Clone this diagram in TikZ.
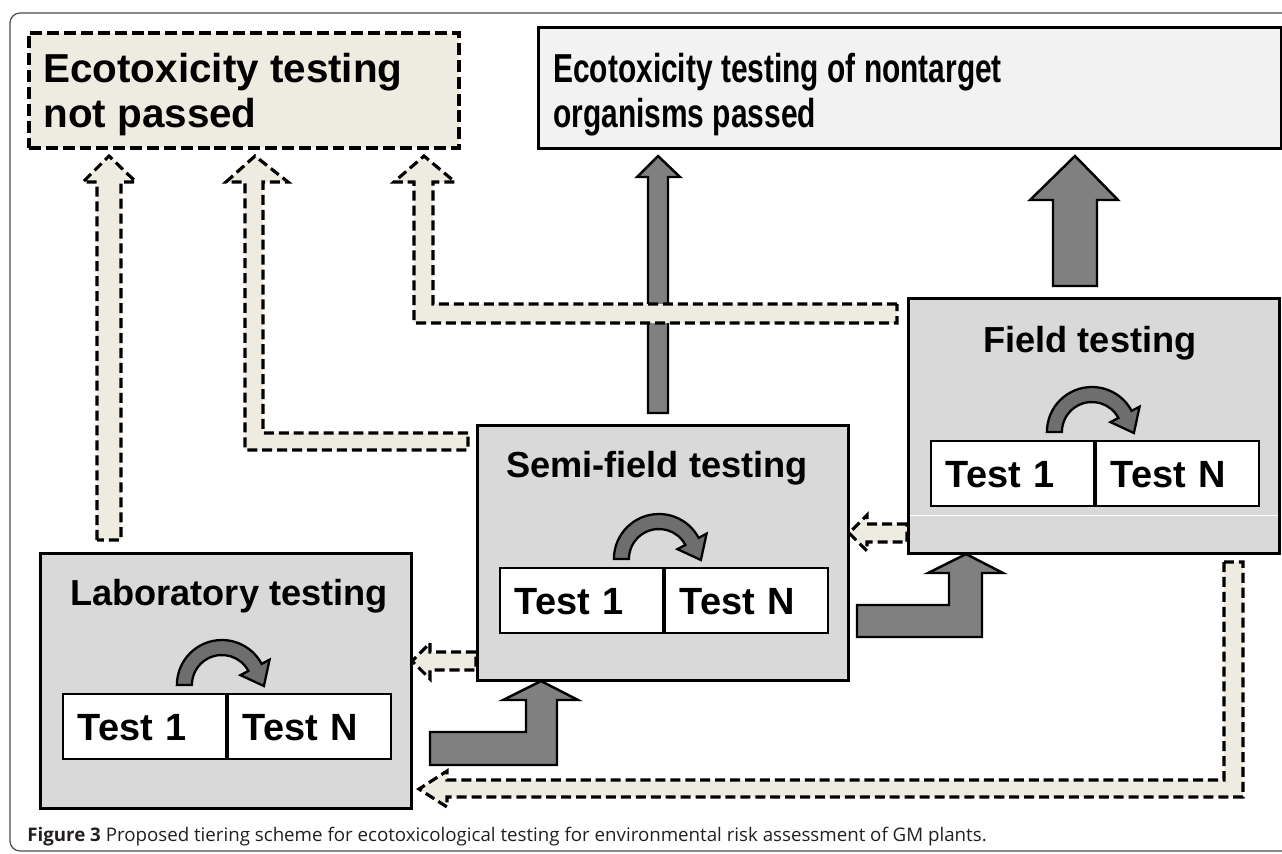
\documentclass[tikz,border=0pt]{standalone}
\usepackage{fontspec}
\setmainfont{Liberation Sans}
\newfontfamily\narrowfont[FakeStretch=0.74]{Liberation Sans}
\newfontfamily\capfont{Open Sans}
\usepackage{tikz}
\usetikzlibrary{positioning}
\usetikzlibrary{calc}
\usetikzlibrary{backgrounds}
\usetikzlibrary{math}

\definecolor{tiergray}{HTML}{D9D9D9}
\definecolor{passgray}{HTML}{F2F2F2}
\definecolor{failtan}{HTML}{EEECE1}
\definecolor{arrgray}{HTML}{808080}
\definecolor{loopgray}{HTML}{6E6E6E}
\definecolor{capblack}{HTML}{231F20}

\tikzstyle{tierbox} = [draw=black, line width=1.7pt, fill=tiergray, minimum width=7.42cm, minimum height=5.1cm, anchor=north west, inner sep=0pt]
\tikzstyle{tiertitle} = [anchor=base, inner sep=0pt, font=\bfseries\fontsize{20.6}{24}\selectfont]
\tikzstyle{testbox} = [draw=black, line width=1.1pt, fill=white, minimum height=1.3cm, text width=2.66cm, inner xsep=0.3cm, inner ysep=0pt, align=left, text height=15.5pt, text depth=0pt, font=\bfseries\fontsize{21.6}{24}\selectfont]
\tikzstyle{failbox} = [draw=black, line width=2.2pt, dash pattern=on 6.8pt off 2.8pt, fill=failtan, anchor=north west, inner sep=0pt]
\tikzstyle{passbox} = [draw=black, line width=1.7pt, fill=passgray, anchor=north west, inner sep=0pt]
\tikzstyle{boxtext} = [anchor=base west, align=left, inner sep=0pt, font=\bfseries\fontsize{23}{25.5}\selectfont]
\tikzstyle{grayarrow} = [draw=black, line width=1.4pt, fill=arrgray]
\tikzstyle{dasharrow} = [draw=black, line width=1.8pt, dash pattern=on 5.7pt off 2.8pt, fill=failtan]
\tikzstyle{looparrow} = [draw=black, line width=1.3pt, fill=loopgray]
\tikzstyle{frame} = [draw=black!70, line width=0.7pt, rounded corners=0.2cm]

\newcommand{\looparr}[1]{%
  \begin{scope}[shift={#1}, yscale=-1]
    \draw[looparrow] (180:45) arc (180:28:45) -- (28:54) -- (42,-1) -- (28:21) -- (28:30) arc (28:180:30) -- cycle;
  \end{scope}}

\begin{document}
\begin{tikzpicture}[x=0.02cm, y=-0.02cm]

  \useasboundingbox (0,0) rectangle (1282,853);

  \tikzmath{\ytip = 156; \yhead = 182;}

  % tiers
  \node[tierbox] (lab) at (39,552) {};
  \node[tierbox] (semi) at (476,424) {};
  \node[tierbox] (field) at (907,297) {};
  \draw[white, line width=0.5pt] ($(field.north west)+(3,218)$) -- ($(field.north east)+(-3,218)$);

  \node[tiertitle] (labtitle) at ($(lab.north)+(3,53)$) {Laboratory testing};
  \node[tiertitle] (semititle) at ($(semi.north)+(-6,53)$) {Semi-field testing};
  \node[tiertitle] (fieldtitle) at ($(field.north)+(-4,55)$) {Field testing};

  \node[testbox, anchor=north west] (lab1) at ($(lab.north west)+(23,141)$) {Test 1};
  \node[testbox, right=0pt of lab1] (labN) {Test N};
  \node[testbox, anchor=north west] (semi1) at ($(semi.north west)+(23,143)$) {Test 1};
  \node[testbox, right=0pt of semi1] (semiN) {Test N};
  \node[testbox, anchor=north west] (field1) at ($(field.north west)+(23,143)$) {Test 1};
  \node[testbox, right=0pt of field1] (fieldN) {Test N};

  \looparr{($(lab1.north east)+(-5,-8)$)}
  \looparr{($(semi1.north east)+(-5,-8)$)}
  \looparr{($(field1.north east)+(-3,-8)$)}

  % outcomes
  \node[failbox, minimum width=8.6cm, minimum height=2.3cm] (fail) at (27,31) {};
  \node[boxtext] (failtxt) at (43,127) {Ecotoxicity testing\\not passed};
  \node[passbox, minimum width=14.86cm, minimum height=2.42cm] (pass) at (537,26) {};
  \node[boxtext, font=\narrowfont\bfseries\fontsize{23}{25.5}\selectfont] (passtxt) at (553,127) {Ecotoxicity testing of nontarget\\organisms passed};

  \node[anchor=base west, inner sep=0pt, text=capblack, font=\capfont\fontsize{10.65}{12}\selectfont] (caption) at (27,841) {\textbf{Figure 3} Proposed tiering scheme for ecotoxicological testing for environmental risk assessment of GM plants.};

  \begin{scope}[on background layer]
    \draw[frame] (10,13) rectangle (1295,851);

    % passed
    \draw[grayarrow] (648,413) -- (648,177) -- (637,177) -- (658,\ytip) -- (680,177) -- (668,177) -- (668,413) -- cycle;
    \draw[grayarrow] (1053,286) -- (1053,200) -- (1030,200) -- (1075,\ytip) -- (1118,200) -- (1097,200) -- (1097,286) -- cycle;
    \draw[grayarrow] (430,732) -- (526,732) -- (526,700) -- (503,700) -- (541,681) -- (578,700) -- (557,700) -- (557,765) -- (430,765) -- cycle;
    \draw[grayarrow] (857,605) -- (949,605) -- (949,573) -- (928,573) -- (966,554) -- (1003,573) -- (982,573) -- (982,637) -- (857,637) -- cycle;

    % not passed
    \draw[dasharrow] (97,540) -- (97,\yhead) -- (83,\yhead) -- (109,\ytip) -- (136,\yhead) -- (121,\yhead) -- (121,540) -- cycle;
    \draw[dasharrow] (468,433) -- (263,433) -- (263,\yhead) -- (288,\yhead) -- (255,\ytip) -- (226,\yhead) -- (245,\yhead) -- (245,450) -- (468,450) -- cycle;
    \draw[dasharrow] (897,304) -- (433,304) -- (433,\yhead) -- (455,\yhead) -- (424,\ytip) -- (394,\yhead) -- (414,\yhead) -- (414,323) -- (897,323) -- cycle;
    \draw[dasharrow] (907,524) -- (867,524) -- (867,515) -- (849,533) -- (867,551) -- (867,542) -- (907,542) -- cycle;
    \draw[dasharrow] (476,652) -- (430,652) -- (430,643) -- (412,661) -- (430,679) -- (430,670) -- (476,670) -- cycle;
    \draw[dasharrow] (1224,562) -- (1224,780) -- (447,780) -- (447,771) -- (419,789) -- (447,807) -- (447,797) -- (1243,797) -- (1243,562) -- cycle;
  \end{scope}

\end{tikzpicture}
\end{document}
